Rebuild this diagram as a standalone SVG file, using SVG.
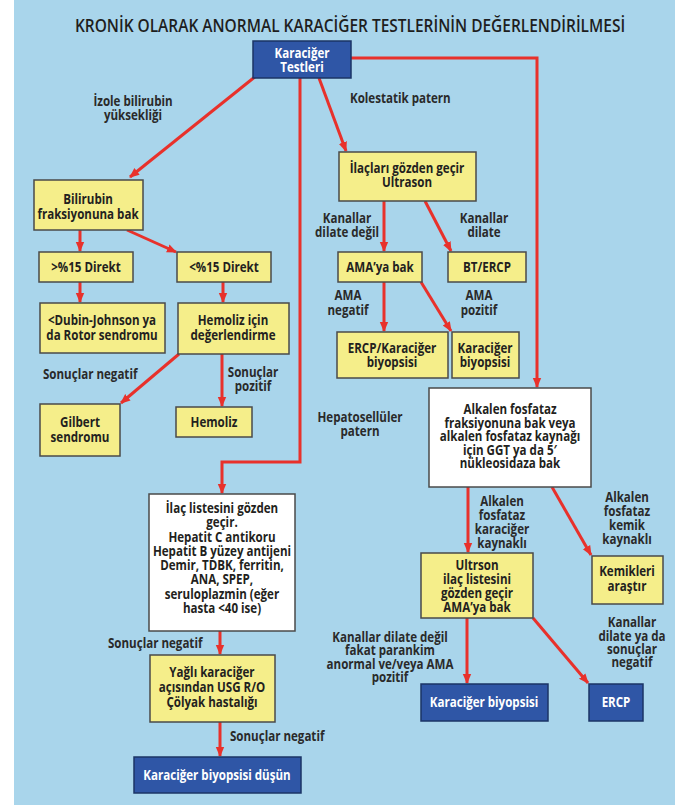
<svg xmlns="http://www.w3.org/2000/svg" width="680" height="811" viewBox="0 0 680 811">
<defs>
<style>
.t{font-family:"Open Sans","Liberation Sans",sans-serif;font-weight:700;font-size:13.3px;fill:#231f20;text-anchor:middle}
.l{font-family:"Open Sans","Liberation Sans",sans-serif;font-weight:700;font-size:13.3px;fill:#2a2a2a;text-anchor:middle}
.ls{text-anchor:start}
.w{fill:#ffffff}
.y{fill:#f5ee8a;stroke:#4a4a4a;stroke-width:1.5}
.wb{fill:#ffffff;stroke:#4a4a4a;stroke-width:1.5}
.bb{fill:#2f56a6;stroke:#1b3466;stroke-width:1.5}
.c{fill:none;stroke:#e8312b;stroke-width:3;stroke-linejoin:miter}
.a{marker-end:url(#ah)}
</style>
<marker id="ah" markerUnits="userSpaceOnUse" markerWidth="10" markerHeight="10" viewBox="0 0 10 10" refX="9" refY="5" orient="auto">
<path d="M0,0.8 L10,5 L0,9.2 Z" fill="#e8312b"/>
</marker>
</defs>
<rect x="0" y="0" width="680" height="811" fill="#ffffff"/>
<rect x="14" y="0" width="661" height="805" fill="#a9d5eb"/>
<text transform="translate(350 32) scale(0.86 1)" style="font-family:'Open Sans','Liberation Sans',sans-serif;font-weight:600;font-size:18px;fill:#1e1e1e;text-anchor:middle">KRONİK OLARAK ANORMAL KARACİĞER TESTLERİNİN DEĞERLENDİRİLMESİ</text>

<g id="connectors">
<polyline class="c a" points="351,58 537,58 537,387"/>
<line class="c a" x1="256" y1="76" x2="130" y2="177"/>
<polyline class="c a" points="300,78 300,462 222,462 222,493"/>
<line class="c a" x1="319" y1="78" x2="346" y2="151"/>
<line class="c a" x1="80" y1="230" x2="80" y2="251"/>
<line class="c a" x1="127" y1="230" x2="176" y2="252"/>
<line class="c a" x1="80" y1="282" x2="80" y2="302"/>
<line class="c a" x1="223" y1="282" x2="223" y2="302"/>
<line class="c a" x1="179" y1="354" x2="121" y2="403"/>
<line class="c a" x1="222" y1="354" x2="222" y2="406"/>
<line class="c a" x1="220" y1="631" x2="220" y2="654"/>
<line class="c a" x1="220" y1="722" x2="220" y2="756"/>
<line class="c a" x1="384" y1="201" x2="384" y2="251"/>
<line class="c a" x1="425" y1="201" x2="451" y2="251"/>
<line class="c a" x1="384" y1="282" x2="384" y2="331"/>
<line class="c a" x1="421" y1="282" x2="451" y2="331"/>
<line class="c a" x1="468" y1="487" x2="468" y2="552"/>
<line class="c a" x1="552" y1="487" x2="591" y2="555"/>
<line class="c a" x1="467" y1="618" x2="467" y2="683"/>
<line class="c a" x1="533" y1="618" x2="588" y2="683"/>
</g>

<g id="labels">
<text class="l" transform="translate(133 106) scale(0.87 1)"><tspan x="0">İzole bilirubin</tspan><tspan x="0" dy="14">yüksekliği</tspan></text>
<text class="l ls" transform="translate(350 103) scale(0.87 1)">Kolestatik patern</text>
<text class="l ls" transform="translate(43 379) scale(0.87 1)">Sonuçlar negatif</text>
<text class="l" transform="translate(253 377) scale(0.87 1)"><tspan x="0">Sonuçlar</tspan><tspan x="0" dy="14">pozitif</tspan></text>
<text class="l" transform="translate(360 422) scale(0.87 1)"><tspan x="0">Hepatosellüler</tspan><tspan x="0" dy="14">patern</tspan></text>
<text class="l" transform="translate(347 223) scale(0.87 1)"><tspan x="0">Kanallar</tspan><tspan x="0" dy="14">dilate değil</tspan></text>
<text class="l" transform="translate(484 223) scale(0.87 1)"><tspan x="0">Kanallar</tspan><tspan x="0" dy="14">dilate</tspan></text>
<text class="l" transform="translate(348 300) scale(0.87 1)"><tspan x="0">AMA</tspan><tspan x="0" dy="15">negatif</tspan></text>
<text class="l" transform="translate(479 300) scale(0.87 1)"><tspan x="0">AMA</tspan><tspan x="0" dy="15">pozitif</tspan></text>
<text class="l" transform="translate(502 506) scale(0.87 1)"><tspan x="0">Alkalen</tspan><tspan x="0" dy="14">fosfataz</tspan><tspan x="0" dy="14">karaciğer</tspan><tspan x="0" dy="14">kaynaklı</tspan></text>
<text class="l" transform="translate(627 502) scale(0.87 1)"><tspan x="0">Alkalen</tspan><tspan x="0" dy="14">fosfataz</tspan><tspan x="0" dy="14">kemik</tspan><tspan x="0" dy="14">kaynaklı</tspan></text>
<text class="l" transform="translate(390 642) scale(0.87 1)"><tspan x="0">Kanallar dilate değil</tspan><tspan x="0" dy="13.4">fakat parankim</tspan><tspan x="0" dy="13.4">anormal ve/veya AMA</tspan><tspan x="0" dy="13.4">pozitif</tspan></text>
<text class="l" transform="translate(632 627) scale(0.87 1)"><tspan x="0">Kanallar</tspan><tspan x="0" dy="13.5">dilate ya da</tspan><tspan x="0" dy="13.5">sonuçlar</tspan><tspan x="0" dy="13.5">negatif</tspan></text>
<text class="l ls" transform="translate(108 648) scale(0.87 1)">Sonuçlar negatif</text>
<text class="l ls" transform="translate(230 741) scale(0.87 1)">Sonuçlar negatif</text>
</g>

<g id="n_root">
<rect class="bb" x="253" y="41" width="98" height="37"/>
<text class="t w" transform="translate(302 58) scale(0.87 1)"><tspan x="0">Karaciğer</tspan><tspan x="0" dy="14">Testleri</tspan></text>
</g>
<g id="n_bilirubin">
<rect class="y" x="34" y="180" width="109" height="50"/>
<text class="t" transform="translate(88 204) scale(0.87 1)"><tspan x="0">Bilirubin</tspan><tspan x="0" dy="15">fraksiyonuna bak</tspan></text>
</g>
<g id="n_gt15">
<rect class="y" x="39" y="252" width="94" height="30"/>
<text class="t" transform="translate(86 272) scale(0.87 1)">&gt;%15 Direkt</text>
</g>
<g id="n_lt15">
<rect class="y" x="177" y="252" width="94" height="30"/>
<text class="t" transform="translate(224 272) scale(0.87 1)">&lt;%15 Direkt</text>
</g>
<g id="n_dubin">
<rect class="y" x="40" y="303" width="125" height="50"/>
<text class="t" transform="translate(102 325) scale(0.87 1)"><tspan x="0">&lt;Dubin-Johnson ya</tspan><tspan x="0" dy="15">da Rotor sendromu</tspan></text>
</g>
<g id="n_hemeval">
<rect class="y" x="178" y="303" width="111" height="51"/>
<text class="t" transform="translate(233 325) scale(0.87 1)"><tspan x="0">Hemoliz için</tspan><tspan x="0" dy="15">değerlendirme</tspan></text>
</g>
<g id="n_gilbert">
<rect class="y" x="40" y="404" width="80" height="52"/>
<text class="t" transform="translate(80 427) scale(0.87 1)"><tspan x="0">Gilbert</tspan><tspan x="0" dy="15">sendromu</tspan></text>
</g>
<g id="n_hemoliz">
<rect class="y" x="176" y="407" width="76" height="30"/>
<text class="t" transform="translate(214 427) scale(0.87 1)">Hemoliz</text>
</g>
<g id="n_ilaclist">
<rect class="wb" x="149" y="494" width="146" height="137"/>
<text class="t" transform="translate(222 513) scale(0.87 1)"><tspan x="0">İlaç listesini gözden</tspan><tspan x="0" dy="14.3">geçir.</tspan><tspan x="0" dy="14.3">Hepatit C antikoru</tspan><tspan x="0" dy="14.3">Hepatit B yüzey antijeni</tspan><tspan x="0" dy="14.3">Demir, TDBK, ferritin,</tspan><tspan x="0" dy="14.3">ANA, SPEP,</tspan><tspan x="0" dy="14.3">seruloplazmin (eğer</tspan><tspan x="0" dy="14.3">hasta &lt;40 ise)</tspan></text>
</g>
<g id="n_yagli">
<rect class="y" x="150" y="655" width="125" height="67"/>
<text class="t" transform="translate(212 677) scale(0.87 1)"><tspan x="0">Yağlı karaciğer</tspan><tspan x="0" dy="15">açısından USG R/O</tspan><tspan x="0" dy="15">Çölyak hastalığı</tspan></text>
</g>
<g id="n_biyopsidusun">
<rect class="bb" x="134" y="757" width="167" height="36"/>
<text class="t w" transform="translate(217 780) scale(0.87 1)">Karaciğer biyopsisi düşün</text>
</g>
<g id="n_ilaclari">
<rect class="y" x="339" y="152" width="137" height="49"/>
<text class="t" transform="translate(407 173) scale(0.87 1)"><tspan x="0">İlaçları gözden geçir</tspan><tspan x="0" dy="14.5">Ultrason</tspan></text>
</g>
<g id="n_ama">
<rect class="y" x="338" y="252" width="84" height="30"/>
<text class="t" transform="translate(380 272) scale(0.87 1)">AMA’ya bak</text>
</g>
<g id="n_btercp">
<rect class="y" x="448" y="252" width="78" height="30"/>
<text class="t" transform="translate(487 272) scale(0.87 1)">BT/ERCP</text>
</g>
<g id="n_ercpkb">
<rect class="y" x="337" y="332" width="111" height="46"/>
<text class="t" transform="translate(392 353) scale(0.87 1)"><tspan x="0">ERCP/Karaciğer</tspan><tspan x="0" dy="14.5">biyopsisi</tspan></text>
</g>
<g id="n_kb1">
<rect class="y" x="452" y="332" width="67" height="46"/>
<text class="t" transform="translate(485 353) scale(0.87 1)"><tspan x="0">Karaciğer</tspan><tspan x="0" dy="14.5">biyopsisi</tspan></text>
</g>
<g id="n_alkalen">
<rect class="wb" x="429" y="388" width="162" height="99"/>
<text class="t" transform="translate(510 414) scale(0.87 1)"><tspan x="0">Alkalen fosfataz</tspan><tspan x="0" dy="13.6">fraksiyonuna bak veya</tspan><tspan x="0" dy="13.6">alkalen fosfataz kaynağı</tspan><tspan x="0" dy="13.6">için GGT ya da 5′</tspan><tspan x="0" dy="13.6">nükleosidaza bak</tspan></text>
</g>
<g id="n_ultrson">
<rect class="y" x="421" y="553" width="112" height="65"/>
<text class="t" transform="translate(477 570) scale(0.87 1)"><tspan x="0">Ultrson</tspan><tspan x="0" dy="14">ilaç listesini</tspan><tspan x="0" dy="14">gözden geçir</tspan><tspan x="0" dy="14">AMA’ya bak</tspan></text>
</g>
<g id="n_kemik">
<rect class="y" x="592" y="556" width="71" height="48"/>
<text class="t" transform="translate(627 576) scale(0.87 1)"><tspan x="0">Kemikleri</tspan><tspan x="0" dy="15">araştır</tspan></text>
</g>
<g id="n_kb2">
<rect class="bb" x="421" y="684" width="127" height="37"/>
<text class="t w" transform="translate(484 707) scale(0.87 1)">Karaciğer biyopsisi</text>
</g>
<g id="n_ercp">
<rect class="bb" x="589" y="684" width="54" height="37"/>
<text class="t w" transform="translate(616 707) scale(0.87 1)">ERCP</text>
</g>
</svg>
